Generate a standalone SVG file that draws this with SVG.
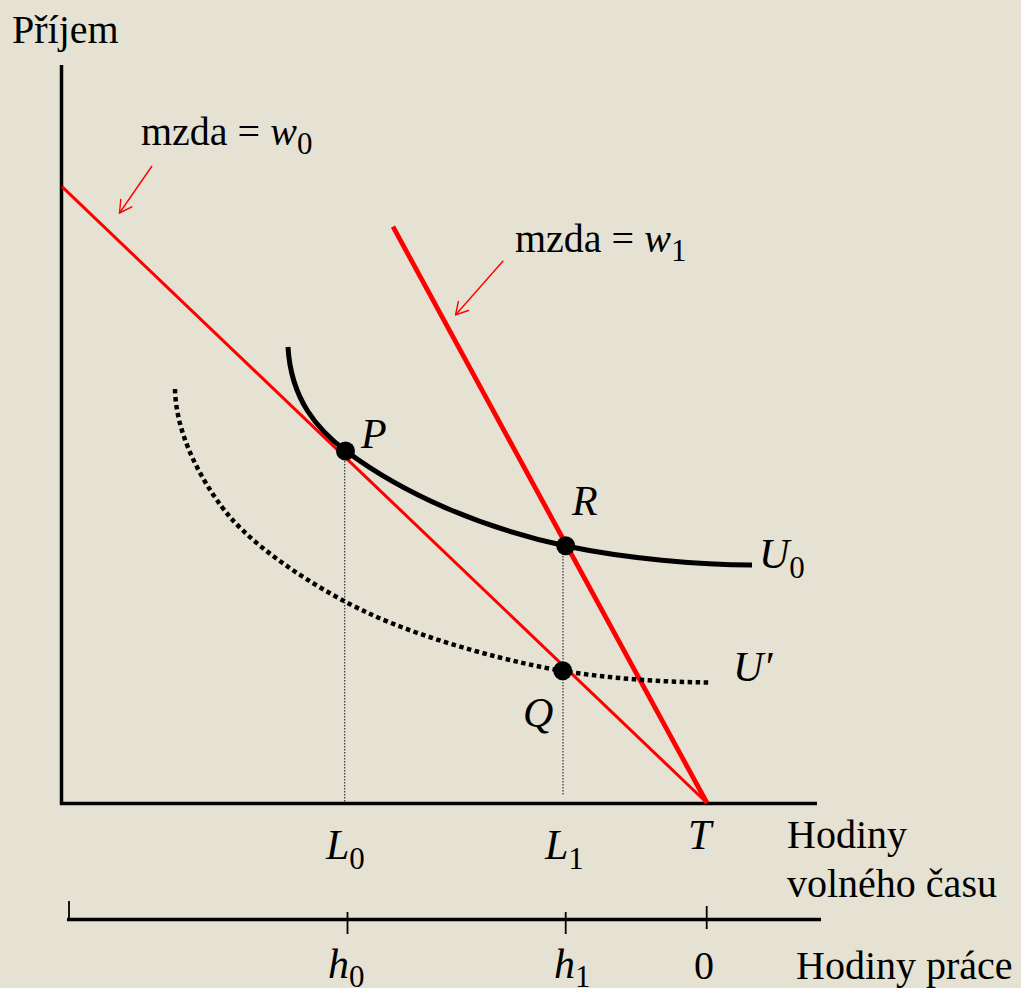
<svg xmlns="http://www.w3.org/2000/svg" width="1021" height="988" viewBox="0 0 1021 988">
<style>
text{font-family:'Liberation Serif','Times New Roman','DejaVu Serif',serif;fill:#000}
.t{font-size:40px}
.i{font-size:42px;font-style:italic}
.s{font-size:31px;font-style:normal}
.ax{stroke:#000;stroke-width:3.5;fill:none}
.tick{stroke:#000;stroke-width:1.8}
.drop{stroke:#333;stroke-width:1.2;stroke-dasharray:1.5 1.5;fill:none}
.budget{stroke:#FF0000;fill:none}
.ptr{stroke:#FF0000;stroke-width:1.4;fill:none}
.dot{fill:#000}
</style>
<defs>
<marker id="ah" viewBox="0 0 14 16" refX="13" refY="8" markerWidth="14" markerHeight="16" markerUnits="userSpaceOnUse" orient="auto">
<path d="M0.5,1 L13,8 L0.5,15" fill="none" stroke="#FF0000" stroke-width="1.4"/>
</marker>
</defs>
<rect width="1021" height="988" fill="#E6E2D3"/>
<g id="axes">
<path class="ax" d="M61.5,65 V803.5 H817"/>
<line class="ax" x1="67" y1="919.5" x2="821" y2="919.5"/>
<line class="tick" x1="69" y1="901" x2="69" y2="920"/>
<line class="tick" x1="347.5" y1="912" x2="347.5" y2="934"/>
<line class="tick" x1="565.7" y1="912" x2="565.7" y2="934"/>
<line class="tick" x1="706.7" y1="906" x2="706.7" y2="929"/>
</g>
<g id="connectors">
<line class="drop" x1="344.7" y1="458" x2="344.7" y2="802"/>
<line class="drop" x1="563" y1="553" x2="563" y2="796"/>
<line class="budget" stroke-width="3" x1="62" y1="186.7" x2="707" y2="803"/>
<line class="budget" stroke-width="4.8" x1="393" y1="226.7" x2="707" y2="803"/>
<line class="ptr" x1="152" y1="166" x2="119.5" y2="213" marker-end="url(#ah)"/>
<line class="ptr" x1="503.3" y1="260.7" x2="455.5" y2="315" marker-end="url(#ah)"/>
</g>
<g id="U0">
<path d="M288,347 C291,400 318,430 346,451 C406,496 486,529 566,546 C626,558.6 700,565 752,565" fill="none" stroke="#000" stroke-width="5"/>
<text class="i" x="759" y="568">U<tspan class="s" dy="10">0</tspan></text>
</g>
<g id="Uprime">
<path d="M175,389 C176,440 208,491 230,517 C262,554 323,592 368,613 C430,642 520,664 563,671 C610,678.5 660,682 710,682.5" fill="none" stroke="#000" stroke-width="4.5" stroke-dasharray="4.5 3.5"/>
<text class="i" x="733" y="681">U′</text>
</g>
<g id="P">
<circle class="dot" cx="345.5" cy="451" r="9.5"/>
<text class="i" x="361" y="448">P</text>
</g>
<g id="R">
<circle class="dot" cx="565.7" cy="545.7" r="9.5"/>
<text class="i" x="572" y="515">R</text>
</g>
<g id="Q">
<circle class="dot" cx="562.7" cy="670.7" r="9.5"/>
<text class="i" x="523" y="727">Q</text>
</g>
<g id="labels">
<text class="t" x="12" y="43">Příjem</text>
<text class="t" x="141" y="145">mzda = <tspan font-style="italic">w</tspan><tspan class="s" dy="9">0</tspan></text>
<text class="t" x="515" y="252">mzda = <tspan font-style="italic">w</tspan><tspan class="s" dy="9">1</tspan></text>
<text class="i" x="326" y="859">L<tspan class="s" dy="10">0</tspan></text>
<text class="i" x="545" y="859">L<tspan class="s" dy="10">1</tspan></text>
<text class="i" x="688" y="849">T</text>
<text class="t" x="787" y="848">Hodiny</text>
<text class="t" x="787" y="897">volného času</text>
<text class="i" x="328" y="978">h<tspan class="s" dy="9">0</tspan></text>
<text class="i" x="554" y="978">h<tspan class="s" dy="9">1</tspan></text>
<text class="t" x="694" y="979">0</text>
<text class="t" x="796" y="979">Hodiny práce</text>
</g>
</svg>
